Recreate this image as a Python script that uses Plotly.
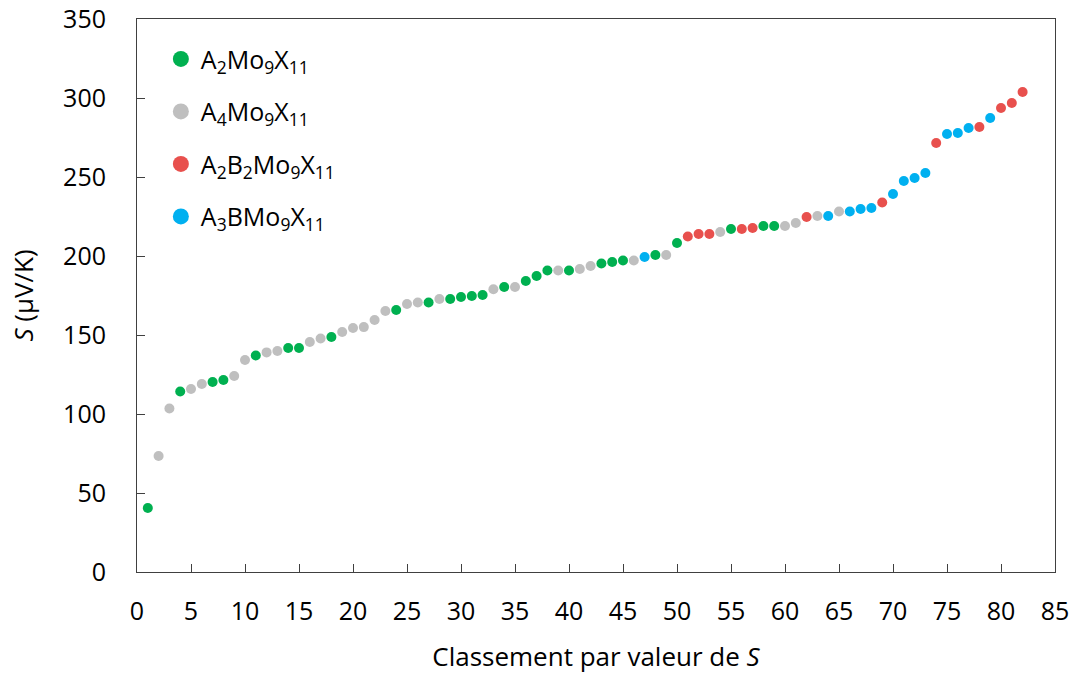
import plotly.graph_objects as go

# Rank (1..82) and Seebeck coefficient
rank = list(range(1, 83))
seebeck = [40.5, 73.4, 103.5, 114.2, 115.8, 119.0, 120.3, 121.5, 124.0, 134.2,
           137.0, 139.0, 139.9, 141.8, 141.8, 145.6, 147.8, 148.7, 151.9, 154.4,
           155.0, 159.5, 165.2, 165.8, 169.6, 170.6, 170.6, 172.8, 172.8, 174.0,
           174.7, 175.3, 179.0, 180.4, 180.4, 184.2, 187.3, 190.8, 190.8, 190.8,
           191.8, 193.7, 195.3, 196.2, 197.2, 197.2, 199.4, 200.6, 200.6, 208.2,
           212.3, 213.9, 213.9, 215.2, 217.1, 217.1, 217.7, 219.0, 219.0, 219.0,
           220.9, 224.7, 225.3, 225.3, 228.2, 228.2, 229.7, 230.4, 233.9, 239.2,
           247.5, 249.4, 252.5, 271.5, 277.2, 277.8, 281.0, 281.6, 287.3, 293.7,
           296.8, 303.8]
# family of each point: g = A2Mo9X11, a = A4Mo9X11, r = A2B2Mo9X11, b = A3BMo9X11
family = list("gaagaaggaagaaggaagaaaaagaagaggggagagggagaagggabgag"
              "rrragrrggaarababbbrbbbbrbbbrbrrr")

series = [
    ("g", "A<sub>2</sub>Mo<sub>9</sub>X<sub>11</sub>", "#00B050"),
    ("a", "A<sub>4</sub>Mo<sub>9</sub>X<sub>11</sub>", "#BFBFBF"),
    ("r", "A<sub>2</sub>B<sub>2</sub>Mo<sub>9</sub>X<sub>11</sub>", "#E8504D"),
    ("b", "A<sub>3</sub>BMo<sub>9</sub>X<sub>11</sub>", "#00B0F0"),
]

fig = go.Figure()
for key, name, color in series:
    xs = [r for r, f in zip(rank, family) if f == key]
    ys = [s for s, f in zip(seebeck, family) if f == key]
    fig.add_trace(go.Scatter(x=xs, y=ys, mode="markers", name=name,
                             legendgroup=key, showlegend=False,
                             marker=dict(color=color, size=10)))
    # legend entry with a bigger marker, as in the original
    fig.add_trace(go.Scatter(x=[None], y=[None], mode="markers", name=name,
                             legendgroup=key, showlegend=True,
                             marker=dict(color=color, size=16)))

font = "Open Sans"
fig.update_layout(
    width=1077, height=675,
    paper_bgcolor="white", plot_bgcolor="white",
    margin=dict(l=137, r=22, t=19, b=103, autoexpand=False),
    font=dict(family=font, color="black", size=25),
    showlegend=True,
    legend=dict(x=0.026, y=0.969, xanchor="left", yanchor="top",
                font=dict(size=25), tracegroupgap=17,
                bgcolor="rgba(0,0,0,0)"),
    xaxis=dict(range=[0, 85], tickmode="linear", tick0=0, dtick=5,
               showgrid=False, zeroline=False,
               showline=True, linecolor="#404040", linewidth=1, mirror=True,
               ticks="inside", ticklen=8, tickcolor="#404040",
               ticklabelstandoff=17, tickfont=dict(size=25),
               ticklabeloverflow="allow",
               title=dict(text="Classement par valeur de <i>S</i>",
                          font=dict(size=26), standoff=21)),
    yaxis=dict(range=[0, 350], tickmode="linear", tick0=0, dtick=50,
               showgrid=False, zeroline=False,
               showline=True, linecolor="#404040", linewidth=1, mirror=True,
               ticks="inside", ticklen=8, tickcolor="#404040",
               ticklabelstandoff=25, tickfont=dict(size=25),
               ticklabeloverflow="allow",
               title=dict(text="<i>S</i> (µV/K)", font=dict(size=26),
                          standoff=22)),
)

# drop the page's default body margin so the figure fills the window
fig.write_html("out.html", config={"displayModeBar": False},
               post_script="document.body.style.margin='0';")
